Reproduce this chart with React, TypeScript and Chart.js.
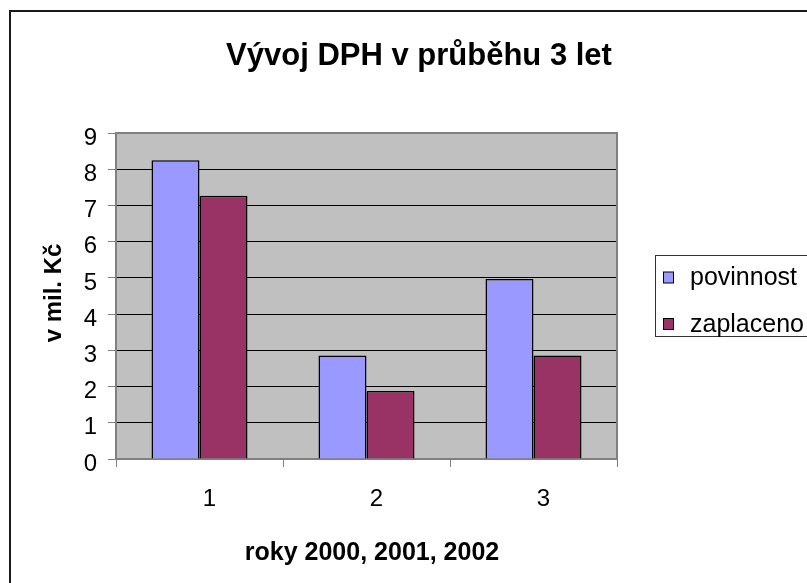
import React, { useEffect, useRef } from 'react';
import { Chart, registerables } from 'chart.js';

Chart.register(...registerables);

const chartTitle = 'Vývoj DPH v průběhu 3 let';
const xTitle = 'roky 2000, 2001, 2002';
const yTitle = 'v mil. Kč';
const categories = ['1', '2', '3'];
const seriesNames = ['povinnost', 'zaplaceno'];
const povinnost = [8.25, 2.86, 4.97];
const zaplaceno = [7.27, 1.88, 2.86];
const yMin = 0;
const yMax = 9;
const yStep = 1;

const FONT = "'Liberation Sans', Arial, sans-serif";
const W = 830;
const H = 600;

const decor = {
  id: 'decor',
  beforeDraw(chart: any) {
    const { ctx, chartArea: a } = chart;
    ctx.save();
    ctx.fillStyle = '#ffffff';
    ctx.fillRect(0, 0, chart.width, chart.height);
    ctx.fillStyle = '#C0C0C0';
    ctx.fillRect(a.left, a.top, a.right - a.left, a.bottom - a.top);
    ctx.restore();
  },
  afterDraw(chart: any) {
    const { ctx, chartArea: a } = chart;
    ctx.save();
    // plot area top / right border
    ctx.strokeStyle = '#808080';
    ctx.lineWidth = 2;
    ctx.beginPath();
    ctx.moveTo(a.left, a.top);
    ctx.lineTo(a.right, a.top);
    ctx.lineTo(a.right, a.bottom);
    ctx.stroke();

    // outer chart frame
    ctx.strokeStyle = '#1a1a1a';
    ctx.lineWidth = 2;
    ctx.strokeRect(10, 11, 900, 900);

    // title
    ctx.fillStyle = '#000';
    ctx.textAlign = 'center';
    ctx.textBaseline = 'alphabetic';
    ctx.font = `bold 31px ${FONT}`;
    ctx.fillText(chartTitle, 419, 65);

    // x axis title
    ctx.font = `bold 25px ${FONT}`;
    ctx.fillText(xTitle, 372, 560);

    // y axis title
    ctx.save();
    ctx.translate(61, 293);
    ctx.rotate(-Math.PI / 2);
    ctx.font = `bold 24px ${FONT}`;
    ctx.textAlign = 'center';
    ctx.textBaseline = 'alphabetic';
    ctx.fillText(yTitle, 0, 0);
    ctx.restore();

    // legend
    ctx.fillStyle = '#fff';
    ctx.fillRect(655, 255, 300, 81);
    ctx.strokeStyle = '#333';
    ctx.lineWidth = 1;
    ctx.strokeRect(655.5, 255.5, 300, 81);
    const rows = [277.5, 324];
    chart.data.datasets.forEach((ds: any, i: number) => {
      const cy = rows[i];
      ctx.fillStyle = ds.backgroundColor;
      ctx.fillRect(663, cy - 5.5, 11, 11);
      ctx.strokeStyle = '#000';
      ctx.strokeRect(663.5, cy - 5.5, 10, 11);
      ctx.fillStyle = '#000';
      ctx.font = `25px ${FONT}`;
      ctx.textAlign = 'left';
      ctx.textBaseline = 'middle';
      ctx.fillText(ds.label, 690, cy + 1);
    });
    ctx.restore();
  },
};

export default function App() {
  const ref = useRef<HTMLCanvasElement | null>(null);

  useEffect(() => {
    document.body.style.overflow = 'hidden';
    const canvas = ref.current;
    if (!canvas) return;
    const chart = new Chart(canvas, {
      type: 'bar',
      data: {
        labels: categories,
        datasets: [
          {
            label: seriesNames[0],
            data: povinnost,
            backgroundColor: '#9999FF',
            borderColor: '#000000',
            borderWidth: 1.5,
          },
          {
            label: seriesNames[1],
            data: zaplaceno,
            backgroundColor: '#993366',
            borderColor: '#000000',
            borderWidth: 1.5,
          },
        ],
      },
      options: {
        responsive: false,
        animation: false,
        events: [],
        categoryPercentage: 0.575,
        barPercentage: 1,
        layout: { padding: { left: 0, top: 133, right: W - 617, bottom: 0 } },
        plugins: {
          legend: { display: false },
          title: { display: false },
          tooltip: { enabled: false },
        },
        scales: {
          x: {
            offset: true,
            grid: {
              display: true,
              offset: true,
              drawOnChartArea: false,
              drawTicks: true,
              tickLength: 8,
              tickColor: '#808080',
              lineWidth: 1,
            },
            border: { display: true, color: '#808080', width: 2 },
            ticks: {
              color: '#000',
              font: { family: FONT, size: 24 },
              padding: 18,
              labelOffset: 10,
              maxRotation: 0,
            },
            afterFit(scale: any) {
              scale.height = H - 459;
            },
          },
          y: {
            min: yMin,
            max: yMax,
            grid: {
              color: '#000000',
              lineWidth: 1,
              tickLength: 8,
              tickColor: '#808080',
            },
            border: { display: true, color: '#808080', width: 2 },
            ticks: {
              stepSize: yStep,
              color: '#000',
              font: { family: FONT, size: 24 },
              padding: 11,
              labelOffset: 5,
            },
            afterFit(scale: any) {
              scale.width = 116;
            },
          },
        },
      },
      plugins: [decor],
    });
    return () => chart.destroy();
  }, []);

  return (
    <div style={{ position: 'fixed', left: 0, top: 0, width: W, height: H }}>
      <canvas ref={ref} width={W} height={H} style={{ width: W, height: H, display: 'block' }} />
    </div>
  );
}
